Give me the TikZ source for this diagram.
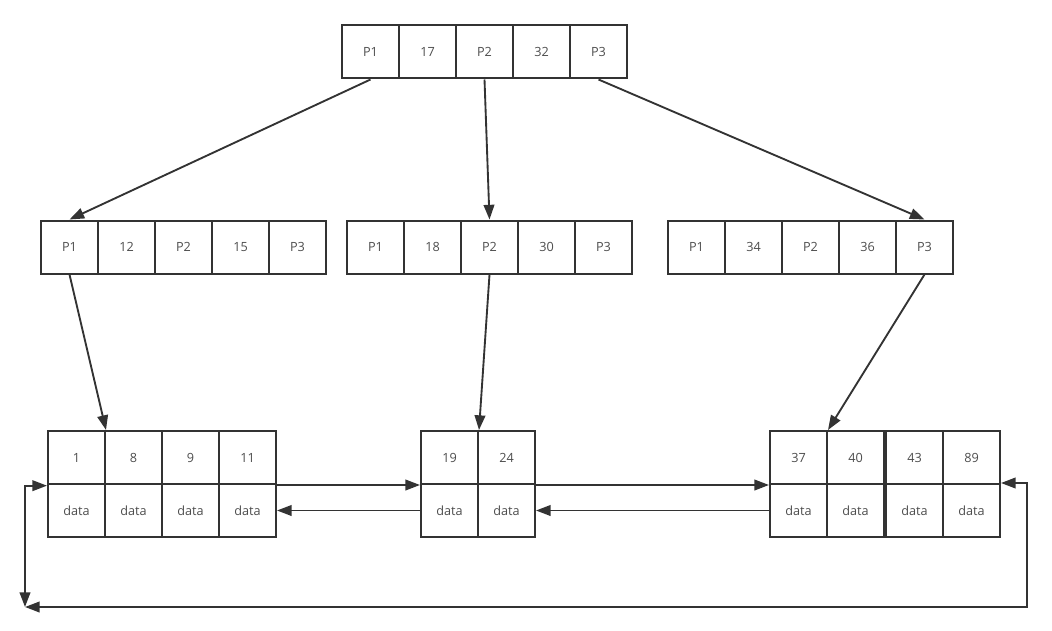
\documentclass[tikz,border=0pt]{standalone}
\usepackage{fontspec}
\setmainfont{Open Sans}
\usetikzlibrary{arrows.meta}
\definecolor{edge}{HTML}{333333}
\definecolor{txt}{HTML}{4D4D4D}

\begin{document}
\begin{tikzpicture}[x=0.75pt, y=-0.75pt,
    cell/.style={draw=edge, line width=1.5pt, minimum width=42.75pt, minimum height=39.75pt,
      inner sep=0pt, text=txt, font=\fontsize{9.5}{11}\selectfont},
    link/.style={draw=edge, line width=1.4pt, -{Triangle[length=11pt,width=8pt]}},
    both/.style={link, {Triangle[length=11pt,width=8pt]}-{Triangle[length=11pt,width=8pt]}}]
  \useasboundingbox (0,0) rectangle (1052,631);
  \foreach \t [count=\i] in {P1,17,P2,32,P3}
    \node[cell] (r\i) at ({342+57*(\i-0.5)},52) {\t};
  \foreach \t [count=\i] in {P1,12,P2,15,P3}
    \node[cell] (l\i) at ({41+57*(\i-0.5)},247) {\t};
  \foreach \t [count=\i] in {P1,18,P2,30,P3}
    \node[cell] (c\i) at ({347+57*(\i-0.5)},247) {\t};
  \foreach \t [count=\i] in {P1,34,P2,36,P3}
    \node[cell] (d\i) at ({668+57*(\i-0.5)},247) {\t};
  \foreach \t [count=\i] in {1,8,9,11} {
    \node[cell] (a\i) at ({48+57*(\i-0.5)},457.5) {\t};
    \node[cell] (ad\i) at ({48+57*(\i-0.5)},510.5) {data};
  }
  \foreach \t [count=\i] in {19,24} {
    \node[cell] (b\i) at ({421+57*(\i-0.5)},457.5) {\t};
    \node[cell] (bd\i) at ({421+57*(\i-0.5)},510.5) {data};
  }
  \foreach \t [count=\i] in {37,40} {
    \node[cell] (e\i) at ({770+57*(\i-0.5)},457.5) {\t};
    \node[cell] (ed\i) at ({770+57*(\i-0.5)},510.5) {data};
  }
  \foreach \t [count=\i from 3] in {43,89} {
    \node[cell] (e\i) at ({886+57*(\i-2.5)},457.5) {\t};
    \node[cell] (ed\i) at ({886+57*(\i-2.5)},510.5) {data};
  }
  \coordinate (sw) at (25,607);
  \coordinate (se) at (1027,607);
  \draw[link] (r1.south) -- (l1.north);
  \draw[link] (r3.south) -- (c3.north);
  \draw[link] (r5.south) -- (d5.north);
  \draw[link] (l1.south) -- (a1.north east);
  \draw[link] (c3.south) -- (b1.north east);
  \draw[link] (d5.south) -- (e1.north east);
  \draw[link] (a4.south east) -- (b1.south west);
  \draw[link] (b2.south east) -- (e1.south west);
  \draw[link] (bd1.west) -- (ad4.east);
  \draw[link] (ed1.west) -- (bd2.east);
  \draw[both] (sw) |- ([yshift=-2pt]ad1.north west);
  \draw[both] (sw) -- (se) |- (ed4.north east);
\end{tikzpicture}
\end{document}
